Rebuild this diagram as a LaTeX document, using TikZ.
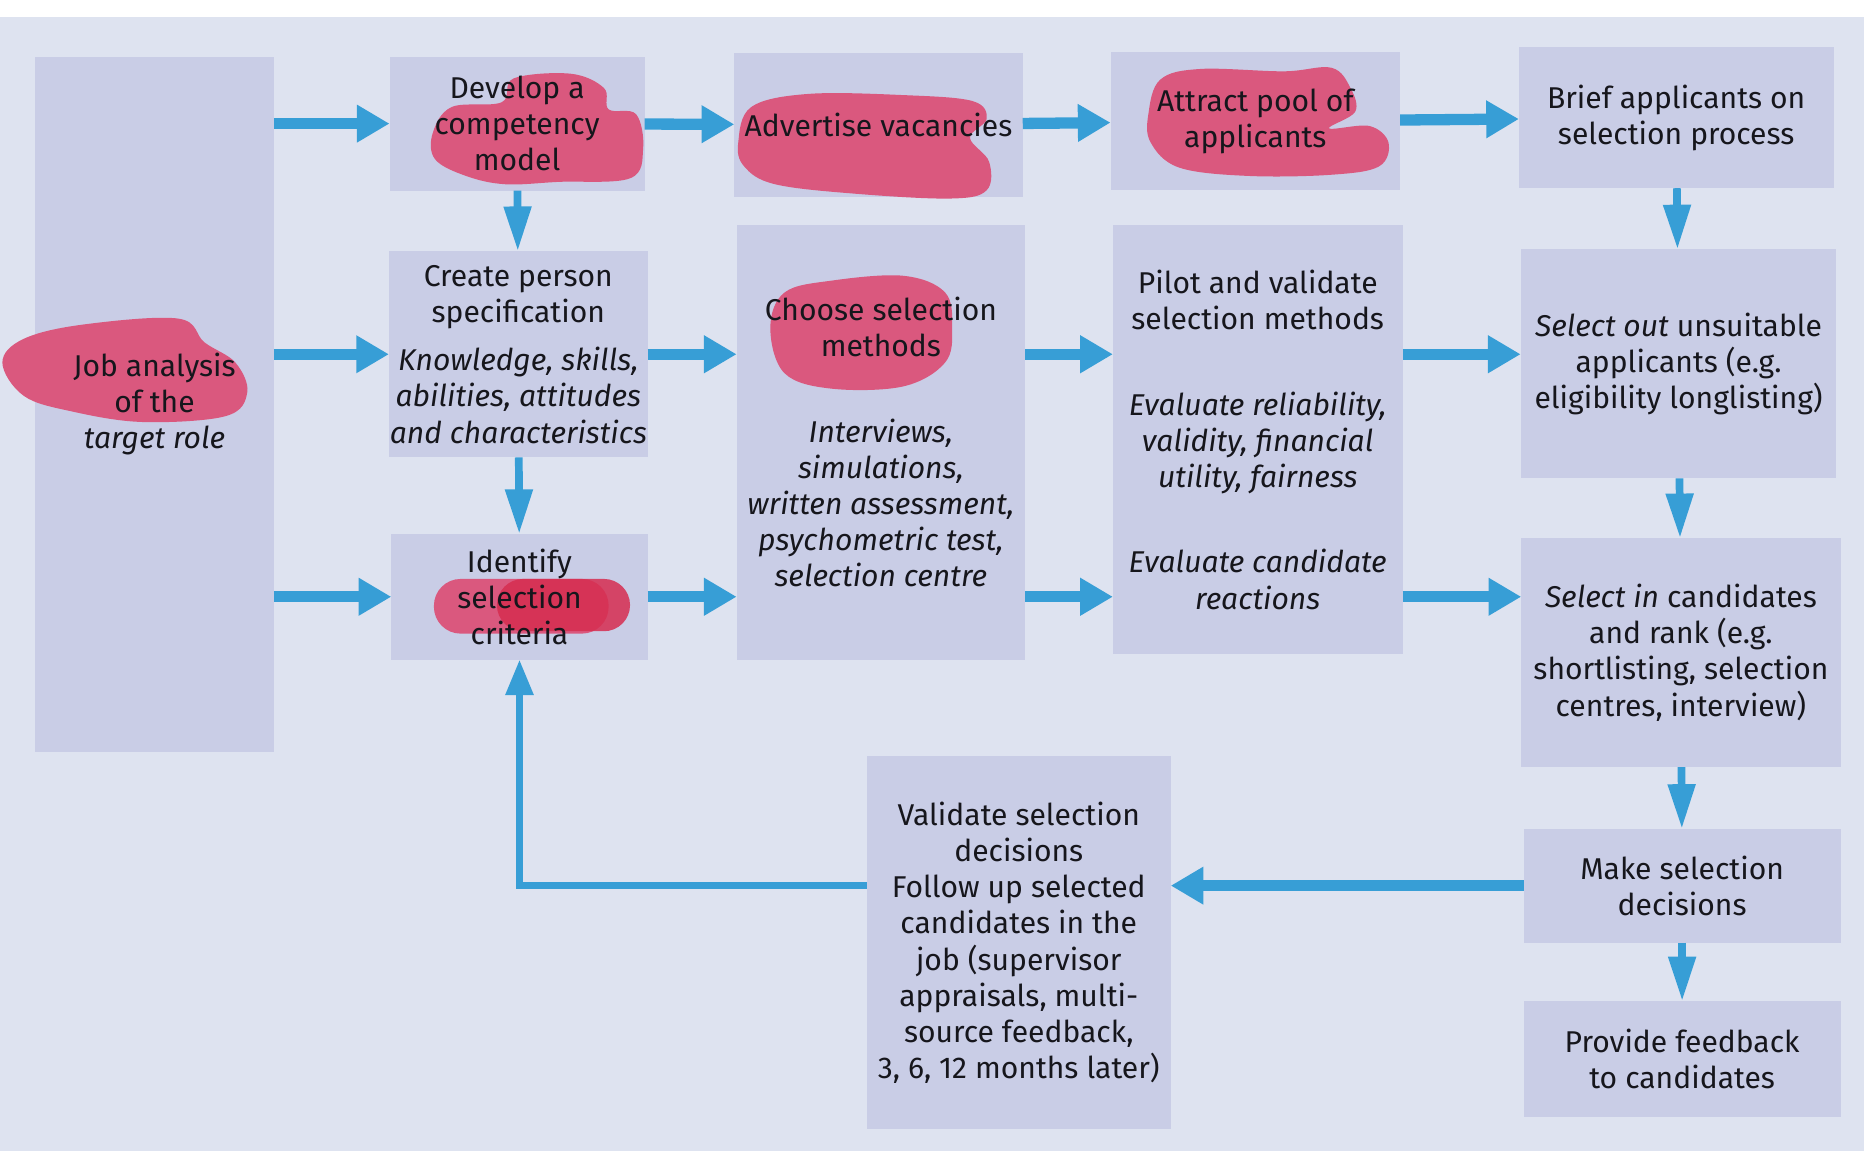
\documentclass[tikz,border=0pt]{standalone}
\usepackage{fontspec}
\setmainfont{Fira Sans}
\usepackage{xcolor}
\usepackage{tikz}
\usetikzlibrary{arrows.meta}
\definecolor{pagebg}{RGB}{222,227,240}
\definecolor{boxbg}{RGB}{201,205,230}
\definecolor{hlpink}{RGB}{218,88,126}
\definecolor{hldark}{RGB}{214,45,80}
\definecolor{flow}{RGB}{55,158,214}
\definecolor{ink}{RGB}{22,22,28}
\pgfdeclarelayer{boxes}
\pgfdeclarelayer{marks}
\pgfsetlayers{boxes,marks,main}
\tikzstyle{stage} = [rectangle, inner sep=0pt, align=center, text=ink, font=\fontsize{14.4}{17.3}\selectfont]
\tikzstyle{highlight} = [fill=hlpink]
\tikzstyle{arrow} = [flow, line width=0.19cm, -{Triangle[length=0.55cm,width=0.6cm]}]
\tikzstyle{downarrow} = [flow, line width=0.13cm, -{Triangle[length=0.75cm,width=0.44cm]}]
\tikzstyle{loopline} = [flow, line width=0.12cm, -{Triangle[length=0.6cm,width=0.45cm]}]

\begin{document}
\begin{tikzpicture}[x=0.02cm, y=-0.02cm]
        \useasboundingbox (0,0) rectangle (1568,983);

        % Nodes
        \node (job) [stage, minimum width=4cm, minimum height=11.68cm] at (130,340) {Job analysis\\of the\\\textit{target role}};
        \node (develop) [stage, minimum width=4.28cm, minimum height=2.24cm] at (435,104) {Develop a\\competency\\model};
        \node (create) [stage, minimum width=4.34cm, minimum height=3.46cm] at (436,298) {Create person\\specification\\[0.21cm]\textit{Knowledge, skills,}\\\textit{abilities, attitudes}\\\textit{and characteristics}};
        \node (identify) [stage, minimum width=4.3cm, minimum height=2.1cm] at (437,502) {Identify\\selection\\criteria};
        \node (advertise) [stage, minimum width=4.84cm, minimum height=2.4cm] at (739,105) {Advertise vacancies};
        \node (choose) [stage, minimum width=4.84cm, minimum height=7.3cm] at (741,372) {Choose selection\\methods\\[0.83cm]\textit{Interviews,}\\\textit{simulations,}\\\textit{written assessment,}\\\textit{psychometric test,}\\\textit{selection centre}};
        \node (attract) [stage, minimum width=4.86cm, minimum height=2.3cm] at (1056,102) {Attract pool of\\applicants};
        \node (pilot) [stage, minimum width=4.86cm, minimum height=7.2cm] at (1058,370) {Pilot and validate\\selection methods\\[0.83cm]\textit{Evaluate reliability,}\\\textit{validity, financial}\\\textit{utility, fairness}\\[0.83cm]\textit{Evaluate candidate}\\\textit{reactions}};
        \node (brief) [stage, minimum width=5.28cm, minimum height=2.36cm] at (1410,99) {Brief applicants on\\selection process};
        \node (selectout) [stage, minimum width=5.3cm, minimum height=3.84cm] at (1412,306) {\textit{Select out} unsuitable\\applicants (e.g.\\eligibility longlisting)};
        \node (selectin) [stage, minimum width=5.36cm, minimum height=3.84cm] at (1414,549) {\textit{Select in} candidates\\and rank (e.g.\\shortlisting, selection\\centres, interview)};
        \node (make) [stage, minimum width=5.32cm, minimum height=1.9cm] at (1415,745) {Make selection\\decisions};
        \node (provide) [stage, minimum width=5.32cm, minimum height=1.94cm] at (1415,891) {Provide feedback\\to candidates};
        \node (validate) [stage, minimum width=5.1cm, minimum height=6.26cm] at (857,793) {Validate selection\\decisions\\Follow up selected\\candidates in the\\job (supervisor\\appraisals, multi-\\source feedback,\\3, 6, 12 months later)};

        % Boxes
        \begin{pgfonlayer}{boxes}
            \fill [white] (0,0) rectangle (1568,983);
            \fill [pagebg] (0,14) rectangle (1568,968);
            \foreach \n in {job,develop,create,identify,advertise,choose,attract,pilot,brief,selectout,selectin,make,provide,validate}
                \fill [boxbg] (\n.south west) rectangle (\n.north east);
        \end{pgfonlayer}

        % Marker pen
        \begin{pgfonlayer}{marks}
            \fill [highlight] plot[smooth cycle, tension=0.6] coordinates {(2,305) (20,285) (70,273) (150,268) (172,288) (198,305) (208,330) (190,350) (120,355) (60,346) (20,333)};
            \fill [highlight] plot[smooth cycle, tension=0.6] coordinates {(364,112) (380,90) (422,86) (432,66) (480,62) (508,74) (512,92) (535,96) (541,125) (530,150) (470,153) (425,155) (392,148) (366,134)};
            \fill [highlight] plot[smooth cycle, tension=0.6] coordinates {(621,120) (632,90) (680,79) (760,80) (818,85) (830,100) (816,116) (832,136) (830,160) (800,167) (720,163) (652,155) (626,140)};
            \fill [highlight] plot[smooth cycle, tension=0.6] coordinates {(966,96) (976,67) (1010,58) (1080,60) (1120,57) (1136,74) (1140,94) (1118,108) (1152,106) (1168,120) (1160,140) (1120,147) (1050,148) (992,141) (968,120)};
            \fill [highlight] plot[smooth cycle, tension=0.6] coordinates {(648,276) (660,246) (700,236) (760,232) (795,246) (801,276) (795,305) (760,325) (700,327) (660,314)};
            \fill [highlight, rounded corners=0.45cm] (365,487) rectangle (512,533);
            \fill [hldark, opacity=0.85, rounded corners=0.44cm] (418,487) rectangle (530,531);
        \end{pgfonlayer}

        % Arrows
        \draw [arrow] (job.east |- develop.west) -- (develop.west);
        \draw [arrow] (job.east |- create.west) -- (create.west);
        \draw [arrow] (job.east |- identify.west) -- (identify.west);
        \draw [arrow] (develop) -- (advertise);
        \draw [arrow] (advertise) -- (attract);
        \draw [arrow] (attract) -- (brief);
        \draw [arrow] (create.east) -- (create.east -| choose.west);
        \draw [arrow] (create.east -| choose.east) -- (create.east -| pilot.west);
        \draw [arrow] (create.east -| pilot.east) -- (create.east -| selectout.west);
        \draw [arrow] (identify.east) -- (identify.east -| choose.west);
        \draw [arrow] (identify.east -| choose.east) -- (identify.east -| pilot.west);
        \draw [arrow] (identify.east -| pilot.east) -- (identify.east -| selectin.west);
        \draw [downarrow] (develop) -- (create);
        \draw [downarrow] (create) -- (identify);
        \draw [downarrow] (brief) -- (selectout);
        \draw [downarrow] (selectout) -- (selectin);
        \draw [downarrow] (selectin) -- (make);
        \draw [downarrow] (make) -- (provide);
        \draw [arrow] (make.west) -- (validate.east |- make.west);
        \draw [loopline] (validate.west |- make.west) -| (identify.south);
    \end{tikzpicture}
\end{document}
